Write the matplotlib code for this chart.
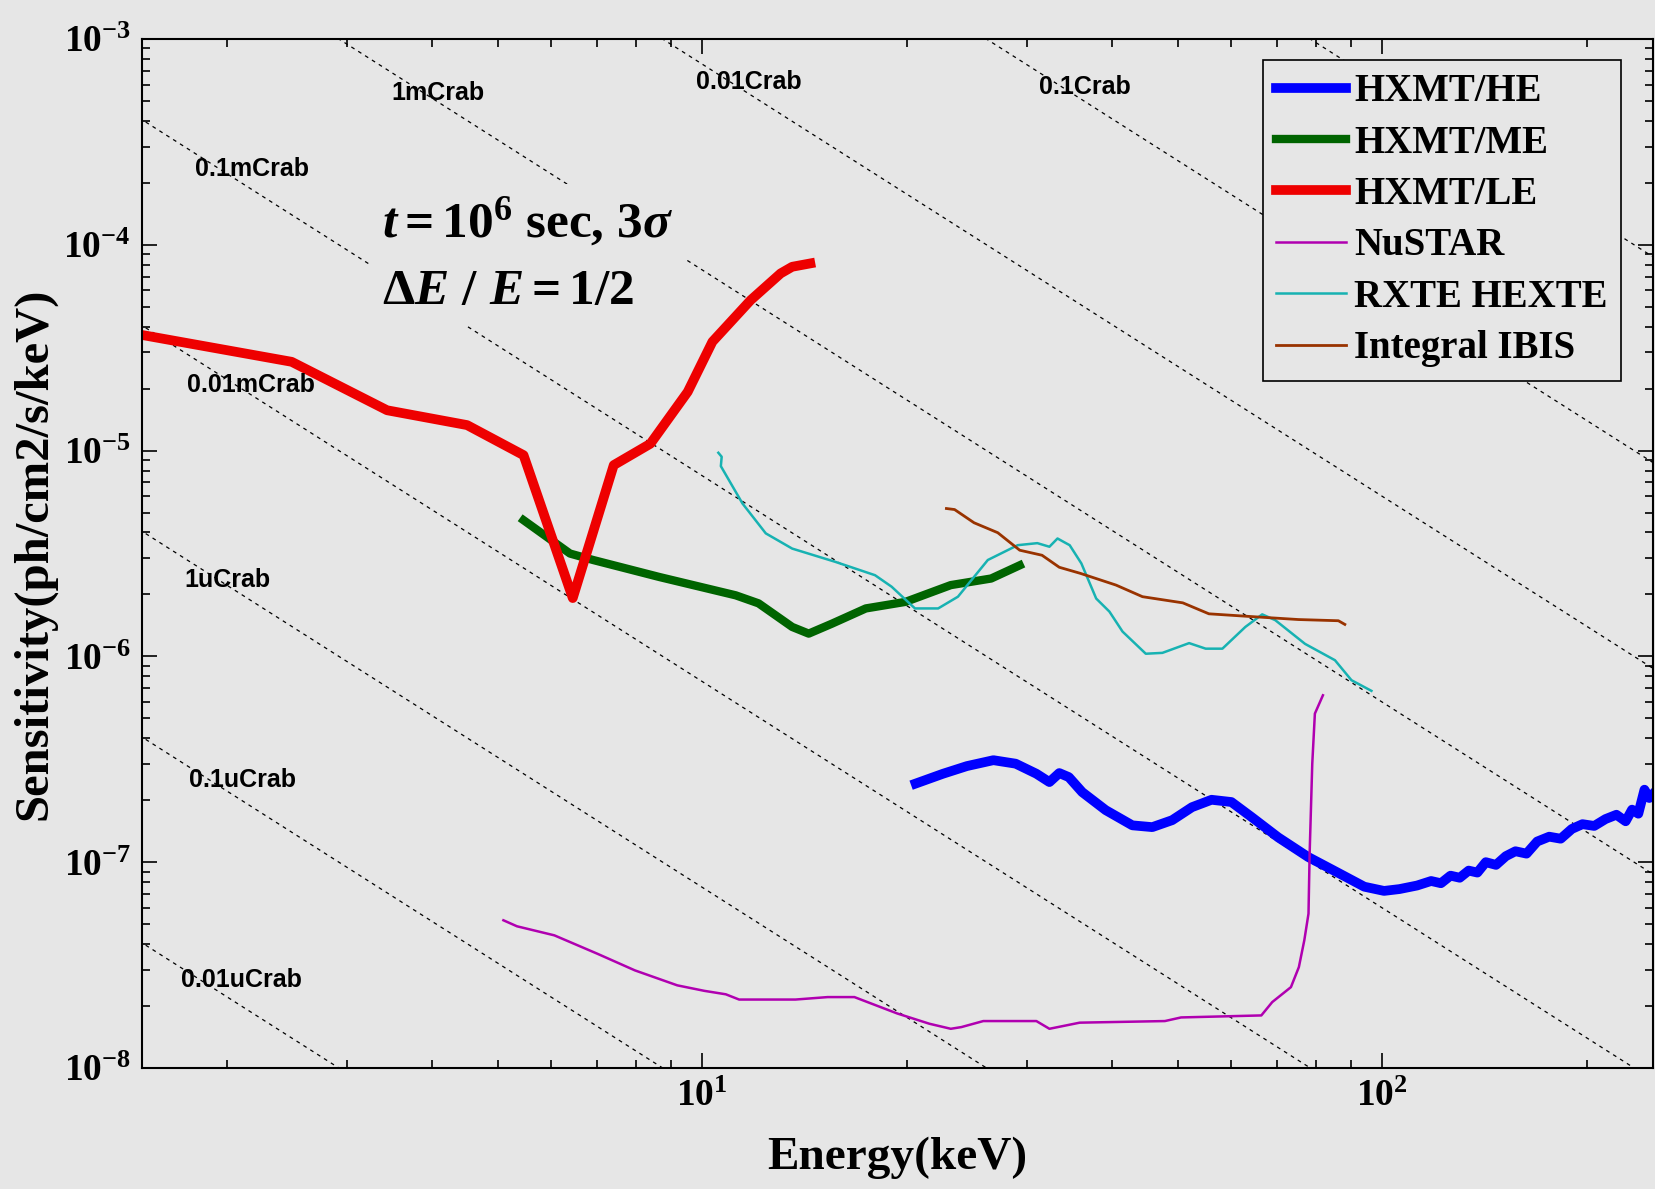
import matplotlib
matplotlib.use("Agg")
import matplotlib.pyplot as plt
import numpy as np

# ---- data ----
he_energy = [20.6, 22.6, 24.5, 26.8, 28.9, 31.0, 32.4, 33.5, 34.6, 36.2, 39.2, 42.9, 45.9,
             49.1, 52.5, 56.1, 60.0, 64.2, 70.3, 77.8, 86.0, 94.1, 100.6, 106, 112.5, 118,
             122, 126, 130, 134, 138, 142, 147, 152, 157, 163, 169, 176, 183, 190, 197, 205,
             213, 221, 228, 233, 238, 243, 247, 252]
he_sens = [2.41e-7, 2.69e-7, 2.93e-7, 3.13e-7, 3.01e-7, 2.69e-7, 2.45e-7, 2.71e-7, 2.59e-7,
           2.19e-7, 1.79e-7, 1.51e-7, 1.48e-7, 1.60e-7, 1.85e-7, 2.01e-7, 1.96e-7, 1.66e-7,
           1.32e-7, 1.06e-7, 8.9e-8, 7.6e-8, 7.25e-8, 7.4e-8, 7.7e-8, 8.1e-8, 7.9e-8, 8.6e-8,
           8.4e-8, 9.1e-8, 8.9e-8, 1.0e-7, 9.7e-8, 1.07e-7, 1.13e-7, 1.10e-7, 1.26e-7, 1.33e-7,
           1.30e-7, 1.45e-7, 1.53e-7, 1.50e-7, 1.62e-7, 1.70e-7, 1.58e-7, 1.80e-7, 1.72e-7,
           2.25e-7, 2.05e-7, 2.2e-7]

me_energy = [5.46, 6.39, 6.91, 8.65, 11.2, 12.1, 13.56, 14.34, 15.5, 17.4, 19.9, 23.2, 26.6, 29.3]
me_sens = [4.59e-6, 3.16e-6, 2.94e-6, 2.43e-6, 1.98e-6, 1.81e-6, 1.39e-6, 1.29e-6, 1.44e-6,
           1.71e-6, 1.84e-6, 2.22e-6, 2.39e-6, 2.77e-6]

le_energy = [1.45, 2.49, 3.44, 4.51, 5.46, 6.45, 7.41, 8.39, 9.52, 10.35, 11.78, 13.04, 13.56, 14.42]
le_sens = [3.72e-5, 2.70e-5, 1.57e-5, 1.33e-5, 9.5e-6, 1.92e-6, 8.5e-6, 1.08e-5, 1.93e-5,
           3.38e-5, 5.38e-5, 7.26e-5, 7.82e-5, 8.12e-5]

nustar_energy = [5.10, 5.34, 6.06, 7.01, 7.96, 9.19, 10.07, 10.83, 11.33, 13.71, 15.29, 16.74,
                 19.35, 21.58, 23.2, 24.05, 25.9, 31.0, 32.4, 35.9, 47.9, 50.6, 66.4, 68.9,
                 73.4, 75.4, 76.8, 77.9, 78.2, 78.9, 79.6, 81.8]
nustar_sens = [5.22e-8, 4.88e-8, 4.41e-8, 3.59e-8, 2.98e-8, 2.52e-8, 2.37e-8, 2.28e-8, 2.15e-8,
               2.15e-8, 2.21e-8, 2.21e-8, 1.84e-8, 1.64e-8, 1.55e-8, 1.58e-8, 1.69e-8, 1.69e-8,
               1.55e-8, 1.66e-8, 1.69e-8, 1.76e-8, 1.80e-8, 2.09e-8, 2.47e-8, 3.09e-8, 4.17e-8,
               5.62e-8, 1.10e-7, 3.01e-7, 5.27e-7, 6.47e-7]

hexte_energy = [10.56, 10.68, 10.65, 11.46, 12.4, 13.56, 15.69, 17.95, 18.99, 20.55, 22.23, 23.77,
                26.3, 29.1, 31.1, 32.4, 33.3, 34.0, 34.7, 36.1, 37.96, 39.7, 41.5, 44.9, 47.5,
                52.0, 55.0, 58.2, 62.9, 66.6, 69.6, 77.0, 85.2, 90.1, 96.4]
hexte_sens = [9.76e-6, 9.33e-6, 8.40e-6, 5.53e-6, 3.96e-6, 3.34e-6, 2.88e-6, 2.48e-6, 2.18e-6,
              1.71e-6, 1.71e-6, 1.95e-6, 2.94e-6, 3.47e-6, 3.55e-6, 3.41e-6, 3.74e-6, 3.60e-6,
              3.47e-6, 2.83e-6, 1.91e-6, 1.65e-6, 1.32e-6, 1.03e-6, 1.04e-6, 1.16e-6, 1.09e-6,
              1.09e-6, 1.39e-6, 1.60e-6, 1.50e-6, 1.15e-6, 9.58e-7, 7.66e-7, 6.80e-7]

ibis_energy = [22.86, 23.5, 25.1, 27.2, 29.3, 31.6, 33.5, 36.0, 40.6, 44.4, 50.9, 55.6, 64.4,
               75.3, 86.2, 88.1]
ibis_sens = [5.23e-6, 5.17e-6, 4.46e-6, 3.99e-6, 3.28e-6, 3.10e-6, 2.71e-6, 2.53e-6, 2.22e-6,
             1.95e-6, 1.82e-6, 1.61e-6, 1.56e-6, 1.51e-6, 1.49e-6, 1.43e-6]

# Crab spectrum levels for the reference lines
crab_norm = 9.5
crab_index = 2.1
crab_fracs = [1, 0.1, 0.01, 1e-3, 1e-4, 1e-5, 1e-6, 1e-7, 1e-8]
crab_names = ["0.1Crab", "0.01Crab", "1mCrab", "0.1mCrab", "0.01mCrab", "1uCrab", "0.1uCrab", "0.01uCrab"]

# ---- style ----
bg = "#e6e6e6"
plt.rcParams["font.family"] = "Liberation Serif"
plt.rcParams["font.weight"] = "bold"
plt.rcParams["axes.labelweight"] = "bold"
plt.rcParams["mathtext.fontset"] = "custom"
plt.rcParams["mathtext.rm"] = "Liberation Serif:bold"
plt.rcParams["mathtext.it"] = "Liberation Serif:italic:bold"
plt.rcParams["mathtext.bf"] = "Liberation Serif:bold"

fig = plt.figure(figsize=(16.55, 11.89), dpi=100, facecolor=bg)
ax = fig.add_axes([0.0858, 0.1018, 0.9129, 0.8654], facecolor=bg)
ax.set_xscale("log")
ax.set_yscale("log")
ax.set_xlim(1.5, 250)
ax.set_ylim(1e-8, 1e-3)

# dashed Crab lines
e_line = np.array([1.0, 300.0])
for f in crab_fracs:
    ax.plot(e_line, f * crab_norm * e_line ** (-crab_index), color="black",
            lw=0.9, ls=(0, (3, 3.5)), zorder=1)

label_pos = [(36.5, 5.84e-4), (11.7, 6.18e-4), (4.09, 5.45e-4), (2.18, 2.33e-4),
             (2.17, 2.08e-5), (2.0, 2.34e-6), (2.11, 2.52e-7), (2.10, 2.69e-8)]
for name, (ex, fy) in zip(crab_names, label_pos):
    ax.text(ex, fy, name, ha="center", va="center", fontsize=18,
            family="Liberation Sans", fontweight="bold", zorder=4)

# instrument curves
ax.plot(he_energy, he_sens, color="#0000ff", lw=7, label="HXMT/HE", zorder=2)
ax.plot(me_energy, me_sens, color="#006400", lw=6, label="HXMT/ME", zorder=2)
ax.plot(le_energy, le_sens, color="#ee0000", lw=7, label="HXMT/LE", zorder=2)
ax.plot(nustar_energy, nustar_sens, color="#b000b0", lw=1.8, label="NuSTAR", zorder=2)
ax.plot(hexte_energy, hexte_sens, color="#17b2b2", lw=1.8, label="RXTE HEXTE", zorder=2)
ax.plot(ibis_energy, ibis_sens, color="#993300", lw=2.0, label="Integral IBIS", zorder=2)

ax.text(3.38, 8.9e-5, "$t = 10^6$ sec, 3$\\sigma$\n$\\Delta E\\ /\\ E = 1/2$",
        ha="left", va="center", fontsize=37, linespacing=1.6, zorder=3,
        bbox=dict(facecolor=bg, edgecolor="none", pad=8))

leg = ax.legend(loc="upper right", bbox_to_anchor=(0.979, 0.980), borderaxespad=0,
                fontsize=28, handlelength=1.8, handletextpad=0.2, labelspacing=0.37,
                borderpad=0.35, fancybox=False, framealpha=1, facecolor=bg, edgecolor="black")
leg.get_frame().set_linewidth(1.2)
leg.set_zorder(5)

# axes cosmetics
for s in ax.spines.values():
    s.set_linewidth(1.5)
ax.tick_params(which="both", direction="in", top=True, right=True, width=1.2)
ax.tick_params(which="major", length=11, labelsize=27, pad=8)
ax.tick_params(which="minor", length=6)

ax.set_xlabel("Energy(keV)", fontsize=34, labelpad=16)
ax.set_ylabel("Sensitivity(ph/cm2/s/keV)", fontsize=35, labelpad=5)

fig.savefig("out.png", dpi=100, facecolor=bg)
